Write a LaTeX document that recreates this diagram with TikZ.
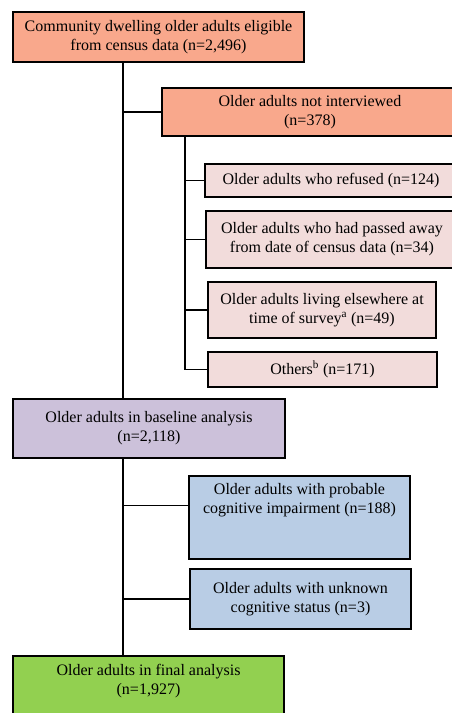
\documentclass[tikz,border=0pt]{standalone}
\usepackage{fontspec}
\setmainfont{Liberation Serif}
\usetikzlibrary{positioning, calc}
\usepackage{xcolor}

\definecolor{salmon}{HTML}{F9A88C}
\definecolor{rosepale}{HTML}{F2DCDB}
\definecolor{lilac}{HTML}{CCC1DA}
\definecolor{skyblue}{HTML}{B9CDE5}
\definecolor{leafgreen}{HTML}{92D050}

\begin{document}
\begin{tikzpicture}[
    x=1pt, y=-1pt,
    node distance=12pt,
    box/.style={rectangle, draw, line width=2pt, anchor=north west, align=center, inner sep=0pt, font=\fontsize{16}{19}\selectfont},
    mainbox/.style={box, fill=salmon},
    subbox/.style={box, fill=rosepale},
    basebox/.style={box, fill=lilac},
    cogbox/.style={box, fill=skyblue},
    finalbox/.style={box, fill=leafgreen},
    link/.style={line width=1.4pt}
]
    \useasboundingbox (0,0) rectangle (451,713);

    % Main column
    \node[mainbox, minimum width=291pt, minimum height=50pt] (eligible) at (12,11)
        {Community dwelling older adults eligible\\from census data (n=2,496)};
    \node[basebox, minimum width=272pt, minimum height=59pt] (baseline) at (12,398)
        {Older adults in baseline analysis\\(n=2,118)};
    \node[finalbox, minimum width=271pt, minimum height=40pt, text depth=50pt] (final) at (12,655)
        {\rule{0pt}{19pt}Older adults in final analysis\\(n=1,927)};

    % Not interviewed and reasons
    \node[mainbox, minimum width=296pt, minimum height=48pt] (notint) at (161,87)
        {Older adults not interviewed\\(n=378)};
    \node[subbox, minimum width=252pt, minimum height=33pt] (refused) at (204,163)
        {Older adults who refused (n=124)};
    \node[subbox, minimum width=252pt, minimum height=57pt, below=12pt of refused.south west, anchor=north west, xshift=1pt] (died)
        {Older adults who had passed away\\from date of census data (n=34)};
    \node[subbox, minimum width=228pt, minimum height=56pt, below=12pt of died.south west, anchor=north west, xshift=2pt] (elsewhere)
        {Older adults living elsewhere at\\time of survey\textsuperscript{a} (n=49)};
    \node[subbox, minimum width=229pt, minimum height=35pt, below=12pt of elsewhere.south west, anchor=north west] (others)
        {Others\textsuperscript{b} (n=171)};

    % Cognitive exclusions
    \node[cogbox, minimum width=221pt, minimum height=40pt, text depth=46pt] (probable) at (188,475)
        {\rule{0pt}{18pt}Older adults with probable\\cognitive impairment (n=188)};
    \node[cogbox, minimum width=221pt, minimum height=60pt] (unknown) at (189,568)
        {Older adults with unknown\\cognitive status (n=3)};

    % Lines
    \coordinate (trunk) at (123,61);
    \coordinate (branch) at (185,135);
    \draw[link] (trunk) -- (baseline.north -| trunk);
    \draw[link] (baseline.south -| trunk) -- (final.north -| trunk);
    \draw[link] (notint.west -| trunk) -- (notint.west);
    \draw[link] (branch) |- (others.west);
    \draw[link] (refused.west -| branch) -- (refused.west);
    \draw[link] (died.west -| branch) -- (died.west);
    \draw[link] (elsewhere.west -| branch) -- (elsewhere.west);
    \coordinate (probpt) at ($(probable.north west)!0.36!(probable.south west)$);
    \draw[link] (probpt -| trunk) -- (probpt);
    \draw[link] (unknown.west -| trunk) -- (unknown.west);

\end{tikzpicture}
\end{document}
